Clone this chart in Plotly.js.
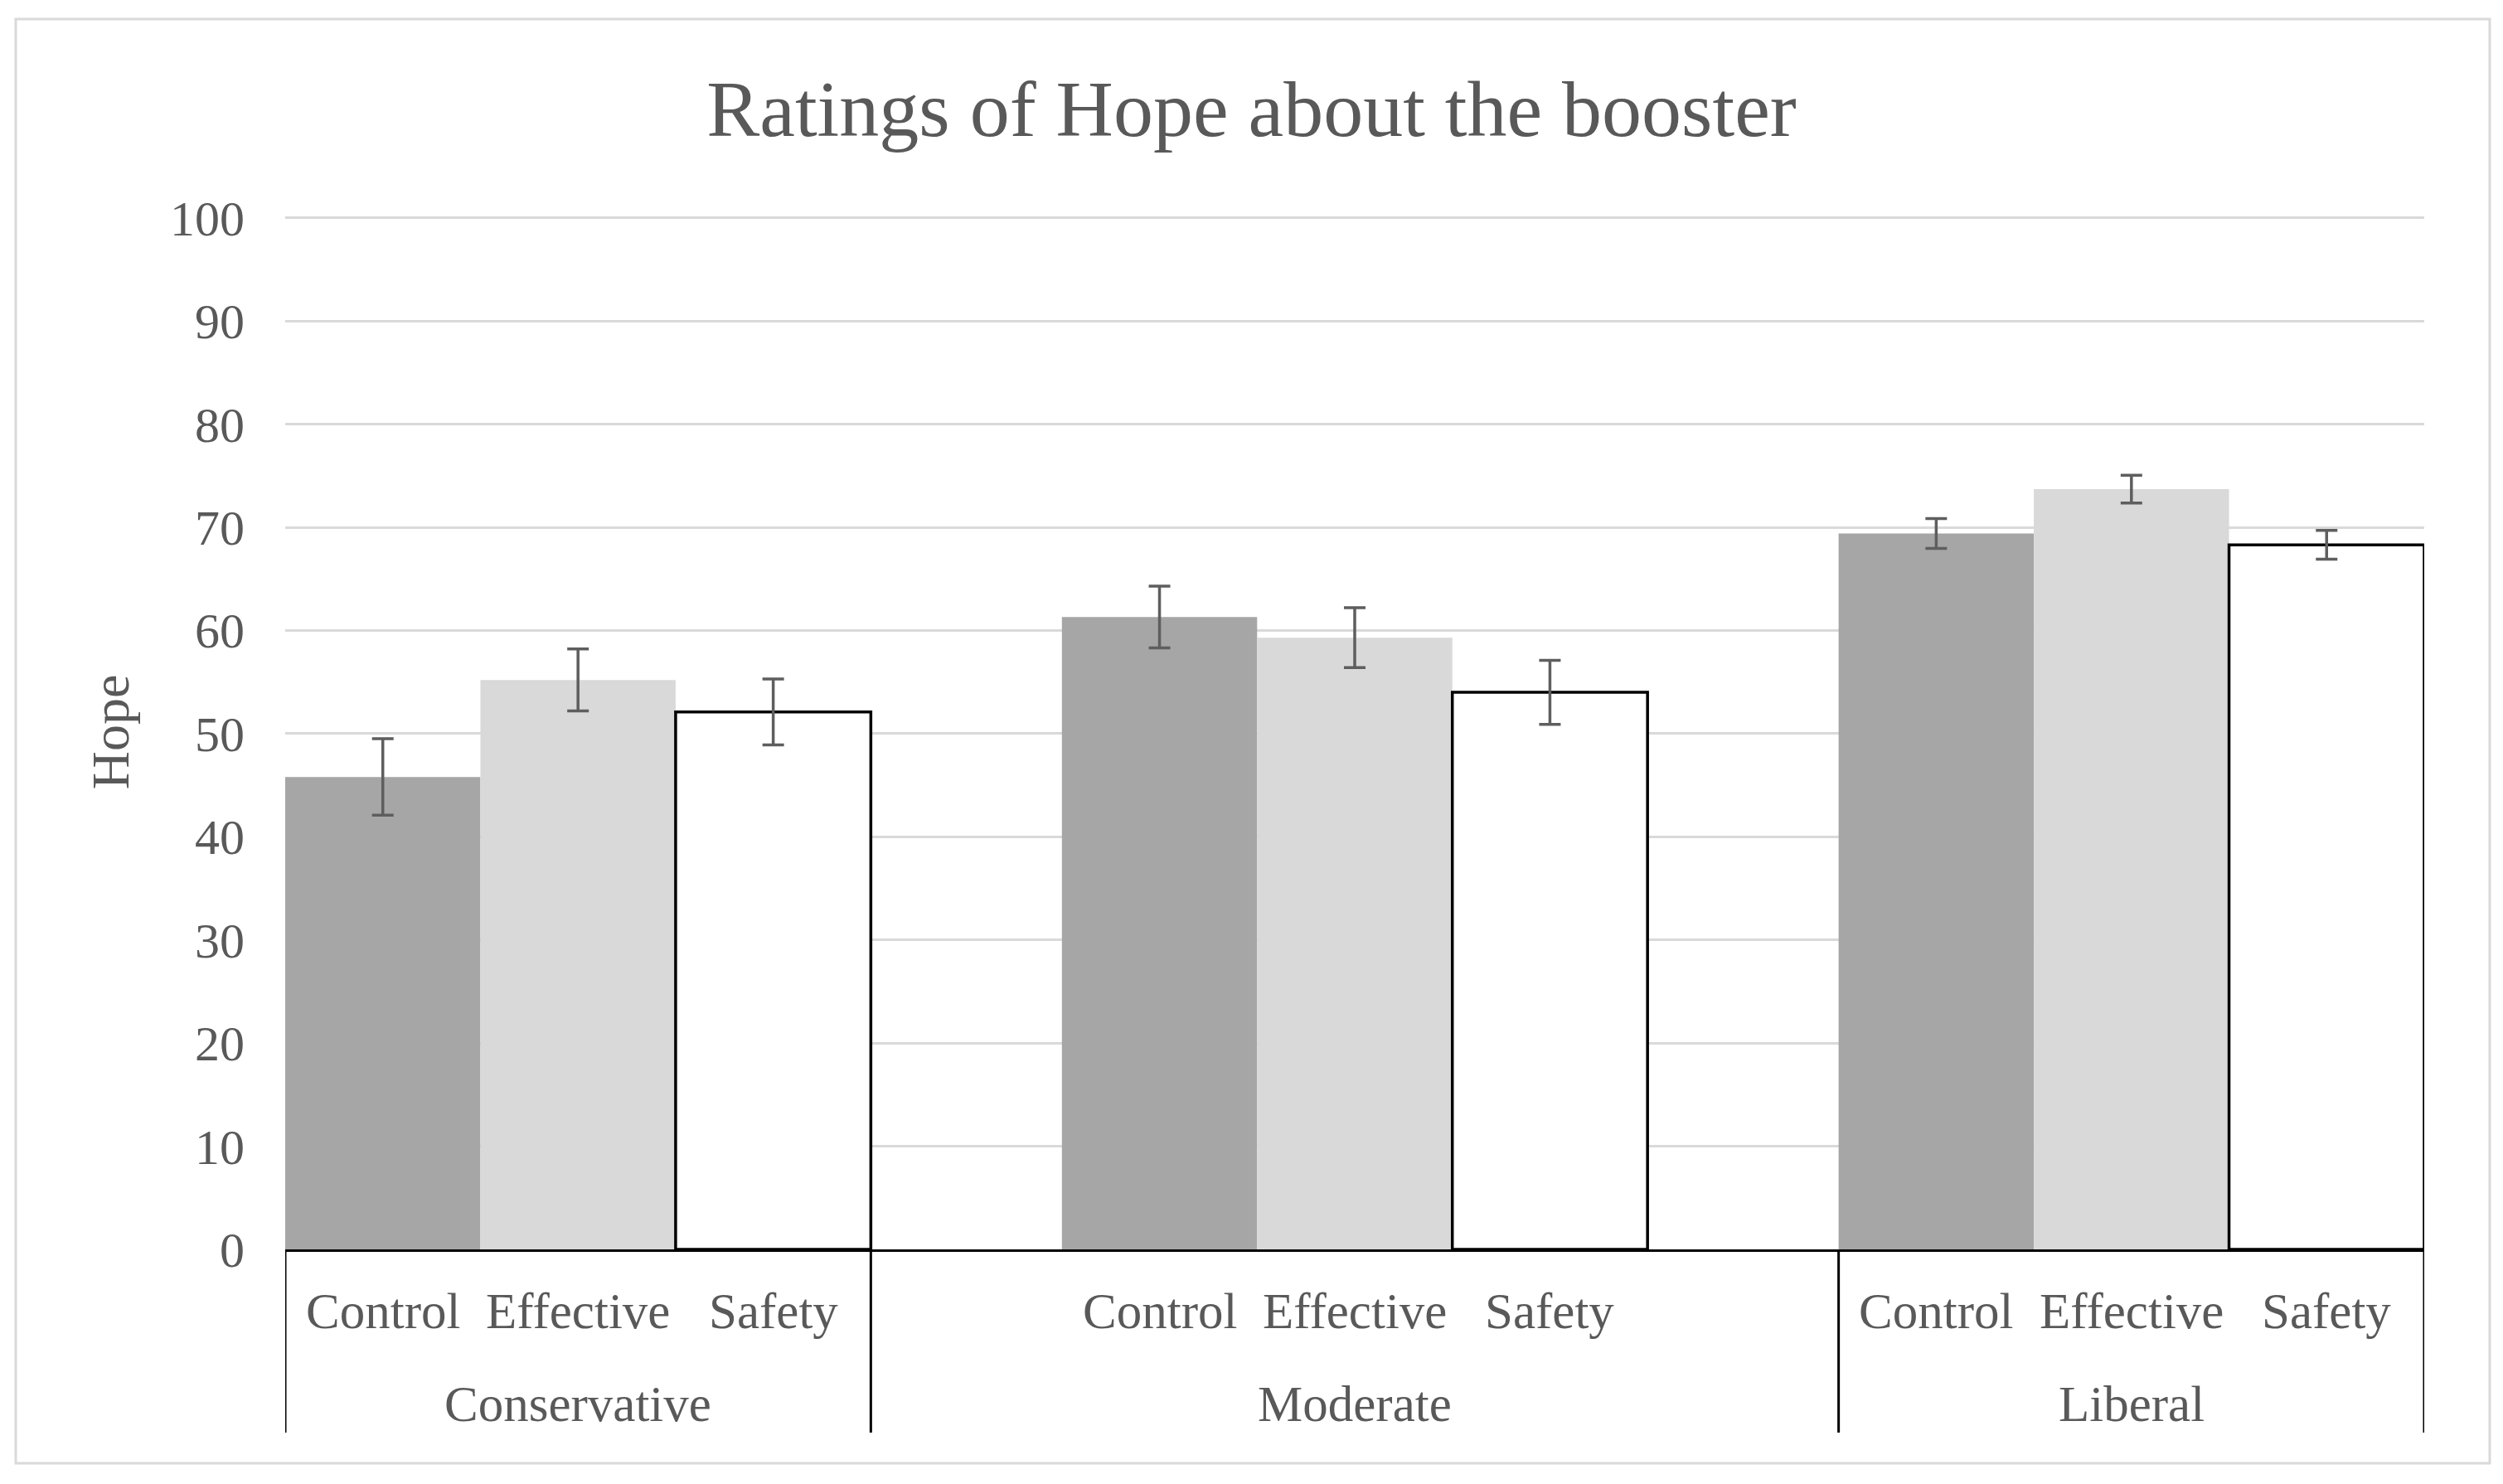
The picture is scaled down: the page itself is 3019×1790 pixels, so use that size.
<!DOCTYPE html>
<html>
<head>
<meta charset="utf-8">
<script src="https://cdn.plot.ly/plotly-3.0.1.min.js"></script>
<style>html,body{margin:0;padding:0;background:#fff;}#chart{width:3019px;height:1790px;}</style>
</head>
<body>
<div id="chart"></div>
<script>
// ---- data ----
const groups = ["Conservative", "Moderate", "Liberal"];
const conditions = ["Control", "Effective", "Safety"];
const controlMeans   = [45.8, 61.3, 69.4];
const effectiveMeans = [55.2, 59.3, 73.7];
const safetyMeans    = [52.1, 54.0, 68.3];
const controlErr   = [3.7, 3.0, 1.45];
const effectiveErr = [3.0, 2.9, 1.35];
const safetyErr    = [3.2, 3.1, 1.4];
const yTicks = [0, 10, 20, 30, 40, 50, 60, 70, 80, 90, 100];

// ---- styling ----
const FONT = "Liberation Serif, Times New Roman, serif";
const TXT = "#595959";
const BARGAP = 0.246;
const half = (1 - BARGAP) / 2;
const barW = (1 - BARGAP) / 3;
const PLOT_H = 1507 - 259;

const means = [controlMeans, effectiveMeans, safetyMeans];
const errs = [controlErr, effectiveErr, safetyErr];
const fills = ["#a6a6a6", "#d9d9d9", "#ffffff"];
const lines = [
  {width: 0},
  {width: 0},
  {width: 3.5, color: "#000000"}
];

const traces = conditions.map((c, i) => ({
  type: "bar",
  name: c,
  x: groups,
  y: means[i],
  marker: {color: fills[i], line: lines[i]},
  error_y: {type: "data", array: errs[i], visible: true, color: "#5e5e5e", thickness: 3.5, width: 13},
  hoverinfo: "skip"
}));

const annotations = [];
groups.forEach((g, gi) => {
  conditions.forEach((c, si) => {
    annotations.push({
      x: gi - half + (si + 0.5) * barW, xref: "x",
      y: (1507 - 1581) / PLOT_H, yref: "paper",
      text: c, showarrow: false,
      font: {family: FONT, size: 61, color: TXT},
      xanchor: "center", yanchor: "middle"
    });
  });
  annotations.push({
    x: gi, xref: "x", y: (1507 - 1693) / PLOT_H, yref: "paper",
    text: g, showarrow: false,
    font: {family: FONT, size: 61, color: TXT},
    xanchor: "center", yanchor: "middle"
  });
});

// group divider positions (as in the source chart)
const dividerX = [0 - half, 0 + half, 2 - half, 2 + half];
const shapes = dividerX.map(x => ({
  type: "line", xref: "x", yref: "paper",
  x0: x, x1: x, y0: 0, y1: (1507 - 1728) / PLOT_H,
  line: {color: "#000000", width: 3}
}));
// outer chart border
shapes.push({
  type: "rect", xref: "paper", yref: "paper",
  x0: (19 - 344) / 2580, x1: (3003 - 344) / 2580,
  y0: (1507 - 1765) / PLOT_H, y1: (1507 - 23) / PLOT_H,
  line: {color: "#d9d9d9", width: 3}, fillcolor: "rgba(0,0,0,0)", layer: "below"
});

const layout = {
  width: 3019, height: 1790,
  margin: {l: 344, r: 95, t: 259, b: 283},
  paper_bgcolor: "#ffffff", plot_bgcolor: "#ffffff",
  showlegend: false,
  barmode: "group",
  bargap: BARGAP, bargroupgap: 0,
  title: {
    text: "Ratings of Hope about the booster",
    font: {family: FONT, size: 96, color: TXT},
    x: 0.5, xanchor: "center", xref: "container",
    y: 1 - 130 / 1790, yanchor: "middle", yref: "container"
  },
  xaxis: {
    type: "category",
    range: [-half, 2 + half],
    showticklabels: false,
    showgrid: false, zeroline: false,
    showline: true, linecolor: "#000000", linewidth: 3,
    ticks: ""
  },
  yaxis: {
    range: [0, 100.3],
    tickvals: yTicks,
    ticktext: yTicks.map(String),
    tickfont: {family: FONT, size: 60, color: TXT},
    ticklabelstandoff: 48,
    showgrid: true, gridcolor: "#d9d9d9", gridwidth: 3,
    zeroline: false, showline: false, ticks: "",
    title: {text: "Hope", font: {family: FONT, size: 64, color: TXT}, standoff: 28}
  },
  annotations: annotations,
  shapes: shapes
};

Plotly.newPlot("chart", traces, layout, {displayModeBar: false, staticPlot: true});
</script>
</body>
</html>
